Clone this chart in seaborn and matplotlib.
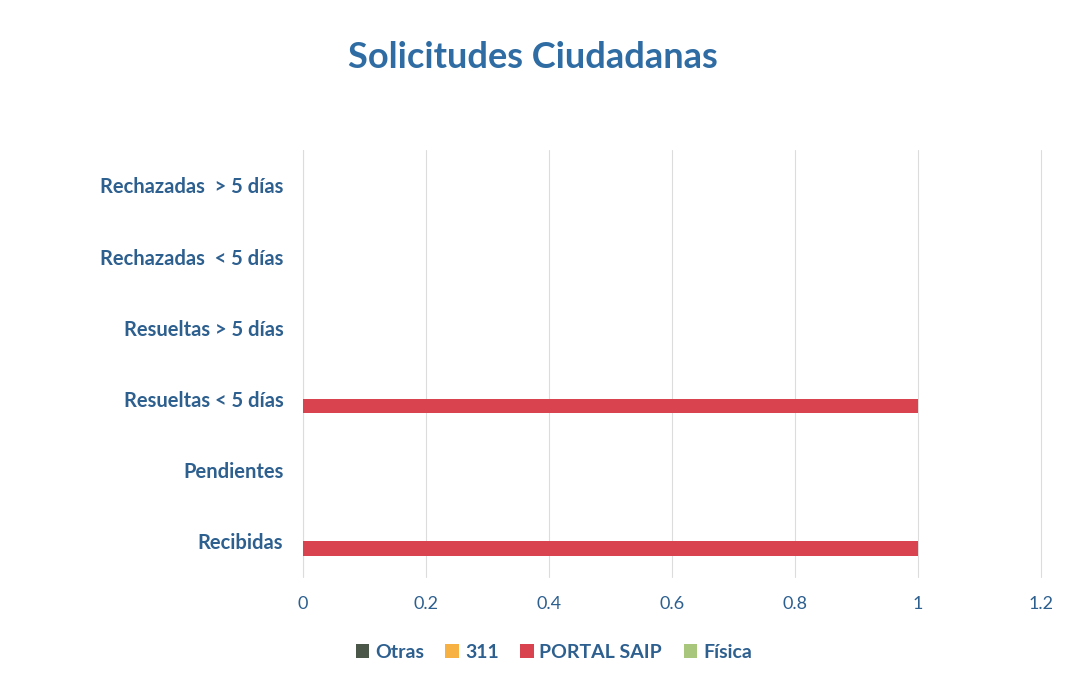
import matplotlib
matplotlib.use("Agg")
import matplotlib.pyplot as plt
import pandas as pd
import seaborn as sns

categorias = ["Recibidas", "Pendientes", "Resueltas < 5 días", "Resueltas > 5 días",
              "Rechazadas  < 5 días", "Rechazadas  > 5 días"]
series = ["Otras", "311", "PORTAL SAIP", "Física"]
otras = [0, 0, 0, 0, 0, 0]
tres11 = [0, 0, 0, 0, 0, 0]
portal_saip = [1, 0, 1, 0, 0, 0]
fisica = [0, 0, 0, 0, 0, 0]
xticks = [0, 0.2, 0.4, 0.6, 0.8, 1, 1.2]
xlabels = ["0", "0.2", "0.4", "0.6", "0.8", "1", "1.2"]

colores = ["#4b5748", "#f6b142", "#d8434f", "#a8c67c"]
azul = "#2d5f8f"

filas = []
for nombre, valores in zip(series, [otras, tres11, portal_saip, fisica]):
    for cat, v in zip(categorias, valores):
        filas.append({"categoria": cat, "serie": nombre, "valor": v})
df = pd.DataFrame(filas)

sns.set_theme(style="white")
plt.rcParams["font.family"] = ["Lato", "DejaVu Sans"]

fig = plt.figure(figsize=(10.66, 6.78), dpi=100)
ax = fig.add_axes([0.284, 0.149, 0.6925, 0.63])

sns.barplot(data=df, x="valor", y="categoria", hue="serie",
            order=categorias[::-1], hue_order=series, palette=colores,
            orient="h", width=0.8, saturation=1, linewidth=0, ax=ax)

ax.set_xlim(0, 1.2)
ax.set_xticks(xticks)
ax.set_xticklabels(xlabels, color=azul, fontsize=13)
ax.set_xlabel("")
ax.set_ylabel("")
for lbl in ax.get_yticklabels():
    lbl.set_color(azul)
    lbl.set_fontweight("bold")
    lbl.set_fontsize(14.5)
ax.tick_params(axis="y", length=0, pad=14)
ax.tick_params(axis="x", length=0, pad=14)
ax.grid(axis="x", color="#dcdcdc", linewidth=0.8)
ax.set_axisbelow(True)
for line in ax.get_xgridlines():
    line.set_clip_on(False)
for s in ax.spines.values():
    s.set_visible(False)
ax.axvline(0, color="#dcdcdc", linewidth=0.8, zorder=0)

leg = ax.legend(loc="upper center", bbox_to_anchor=(0.34, -0.115), ncol=4,
                frameon=False, handlelength=0.7, handleheight=0.7,
                handletextpad=0.3, columnspacing=1.1,
                prop={"weight": "bold", "size": 14})
for t in leg.get_texts():
    t.set_color(azul)

fig.text(0.5, 0.915, "Solicitudes Ciudadanas", ha="center", va="center",
         color="#2f6ca3", fontsize=26, fontweight="bold")

fig.savefig("out.png", dpi=100, facecolor="white")
